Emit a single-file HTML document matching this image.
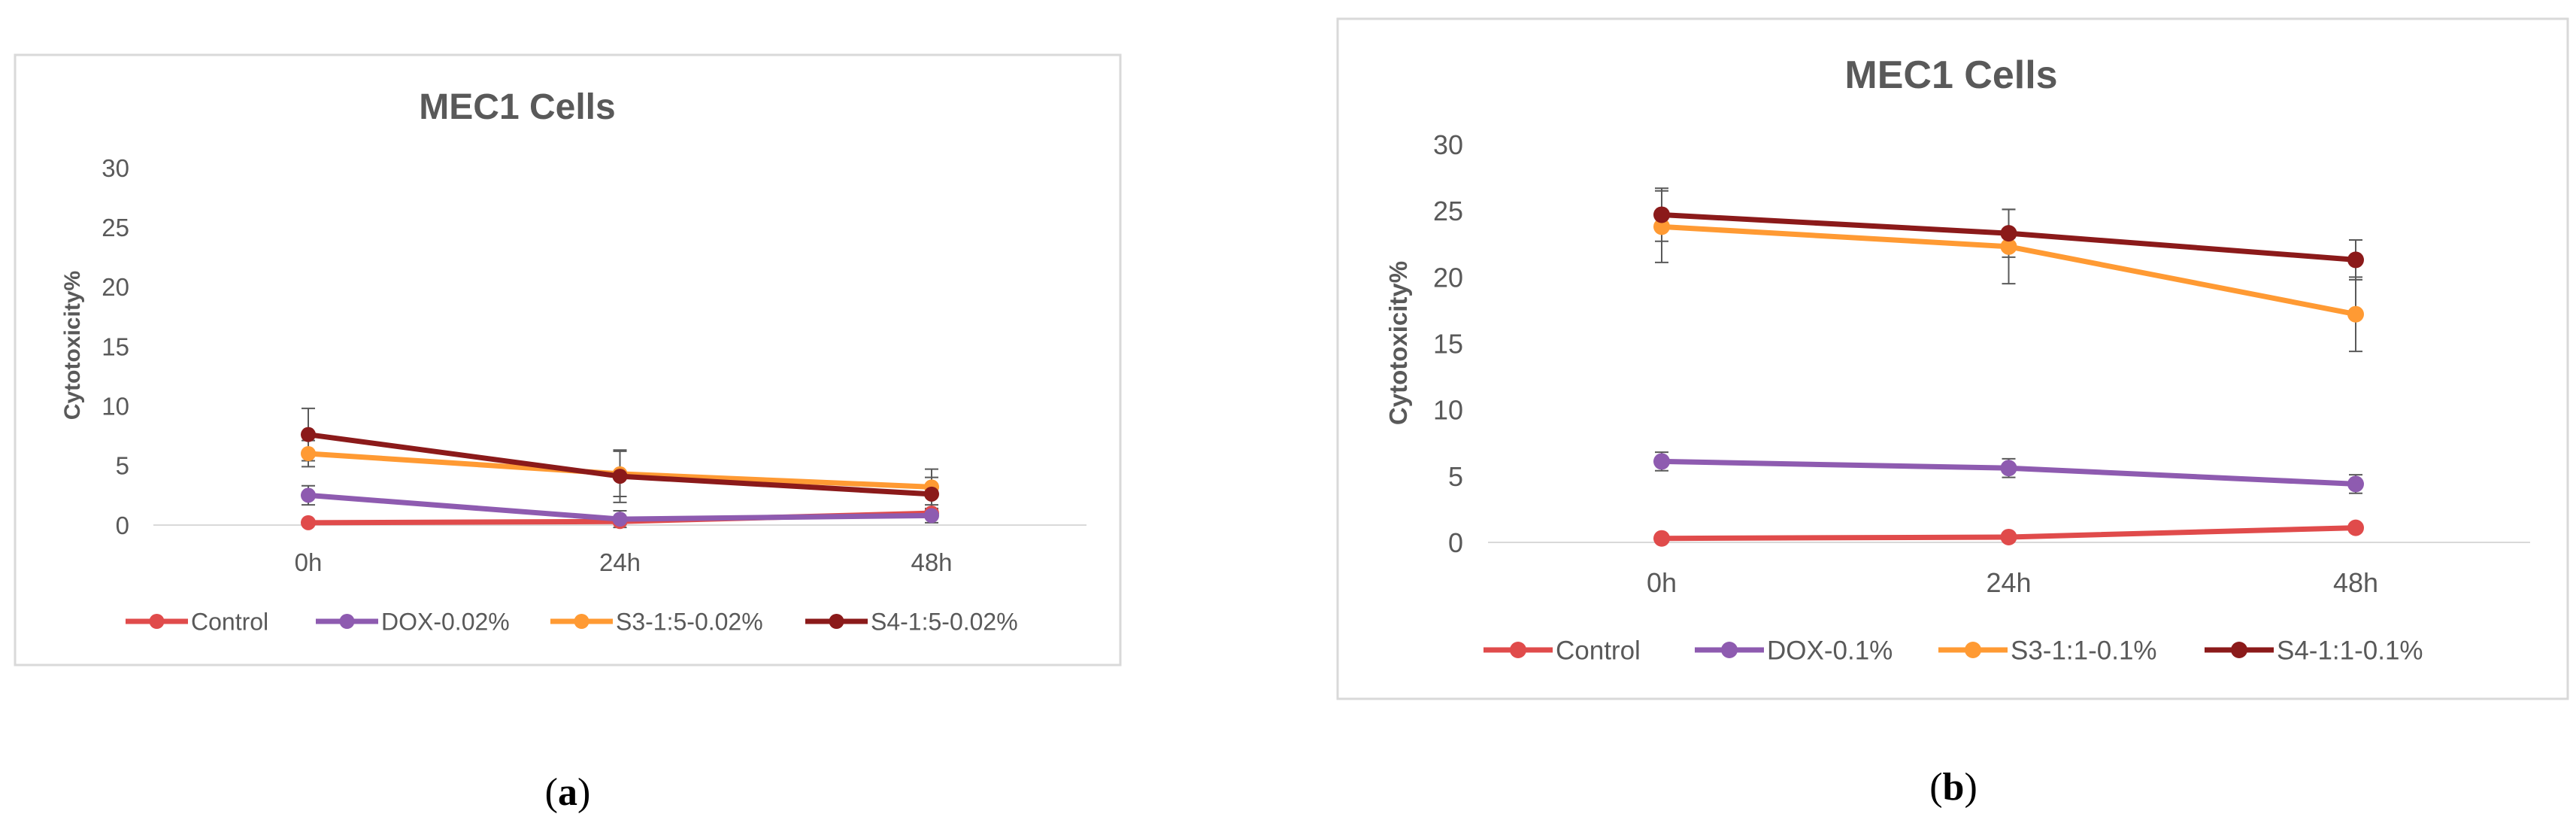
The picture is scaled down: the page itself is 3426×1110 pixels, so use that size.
<!DOCTYPE html>
<html><head><meta charset="utf-8">
<style>
html,body{margin:0;padding:0;background:#fff;}
svg{display:block;font-family:"Liberation Sans",sans-serif;}
</style></head>
<body>
<svg id="fig" width="3426" height="1110" viewBox="0 0 3426 1110" xmlns="http://www.w3.org/2000/svg"></svg>
<script>
const categories = ["0h","24h","48h"];
const yTicks = [0,5,10,15,20,25,30];
const seriesNames = ["Control","DOX","S3","S4"];
const colors = ["#e04b4b","#8e5bb0","#ff9a33","#8b1a1a"];
// panel a
const aLabels = ["Control","DOX-0.02%","S3-1:5-0.02%","S4-1:5-0.02%"];
const aControl = [0.2,0.3,1.0];
const aDox = [2.5,0.5,0.8];
const aS3 = [6.0,4.3,3.2];
const aS4 = [7.6,4.1,2.6];
const aControlErr = [0.2,0.2,0.3];
const aDoxErr = [0.8,0.7,0.6];
const aS3Err = [1.1,1.9,1.5];
const aS4Err = [2.2,2.2,1.4];
// panel b
const bLabels = ["Control","DOX-0.1%","S3-1:1-0.1%","S4-1:1-0.1%"];
const bControl = [0.3,0.4,1.1];
const bDox = [6.1,5.6,4.4];
const bS3 = [23.8,22.3,17.2];
const bS4 = [24.7,23.3,21.3];
const bControlErr = [0.2,0.2,0.3];
const bDoxErr = [0.7,0.7,0.7];
const bS3Err = [2.7,2.8,2.8];
const bS4Err = [2.0,1.8,1.5];

const NS="http://www.w3.org/2000/svg";
const svg=document.getElementById('fig');
function mk(tag,attrs,parent,text){const e=document.createElementNS(NS,tag);for(const k in attrs)e.setAttribute(k,attrs[k]);if(text!==undefined)e.textContent=text;(parent||svg).appendChild(e);return e;}

function panel(cfg){
  const g=mk('g',{});
  
  
  const box=mk('rect',{x:cfg.box[0],y:cfg.box[1],width:cfg.box[2]-cfg.box[0],height:cfg.box[3]-cfg.box[1],fill:'#fff',stroke:'#d9d9d9','stroke-width':3},g);
  
  
  const t=mk('text',{x:cfg.titleX,y:cfg.titleY,'font-size':cfg.titleSize,'font-weight':'bold',fill:'#595959','text-anchor':'middle'},g,'MEC1 Cells');
  
  
  const y=v=>cfg.y0+(cfg.y30-cfg.y0)*v/30;
  const x=i=>cfg.xs[0]+(cfg.xs[2]-cfg.xs[0])*i/(categories.length-1);
  yTicks.forEach(v=>{
    const tl=mk('text',{x:cfg.tickRight,y:y(v)+cfg.tickSize*0.36,'font-size':cfg.tickSize,fill:'#595959','text-anchor':'end'},g,String(v));
    
    
  });
  const ax=mk('line',{x1:cfg.axis[0],x2:cfg.axis[1],y1:y(0),y2:y(0),stroke:'#d9d9d9','stroke-width':2},g);
  
  
  categories.forEach((c,i)=>{
    const xl=mk('text',{x:x(i),y:cfg.xLabelY,'font-size':cfg.tickSize,fill:'#595959','text-anchor':'middle'},g,c);
    
    
  });
  const yt=mk('text',{x:0,y:0,'font-size':cfg.yTitleSize,'font-weight':'bold',fill:'#595959','text-anchor':'middle',transform:`translate(${cfg.yTitleX},${cfg.yTitleY}) rotate(-90)`},g,'Cytotoxicity%');
  
  
  cfg.series.forEach((vals,s)=>{
    const errs=cfg.errs[s];
    vals.forEach((v,i)=>{
      const e=errs[i],xx=x(i);
      const eb=mk('path',{d:`M${xx},${y(v-e)}V${y(v+e)}M${xx-9},${y(v-e)}h18M${xx-9},${y(v+e)}h18`,stroke:'#595959','stroke-width':2,fill:'none'},g);
      
      
    });
  });
  cfg.series.forEach((vals,s)=>{
    const pl=mk('polyline',{points:vals.map((v,i)=>x(i)+','+y(v)).join(' '),fill:'none',stroke:colors[s],'stroke-width':cfg.lw,'stroke-linejoin':'round'},g);
    
    
    vals.forEach((v,i)=>{
      const c=mk('circle',{cx:x(i),cy:y(v),r:cfg.r,fill:colors[s]},g);
      
      
    });
  });
  cfg.legend.forEach((lx,s)=>{
    const lg=mk('g',{},g);
    
    
    mk('line',{x1:lx,x2:lx+cfg.legLen,y1:cfg.legY,y2:cfg.legY,stroke:colors[s],'stroke-width':cfg.lw},lg);
    mk('circle',{cx:lx+cfg.legLen/2,cy:cfg.legY,r:cfg.r,fill:colors[s]},lg);
    mk('text',{x:lx+cfg.legLen+4,y:cfg.legY+cfg.legSize*0.36,'font-size':cfg.legSize,fill:'#595959'},lg,cfg.labels[s]);
  });
}

panel({id:'a',box:[20,73,1490,884],titleX:688,titleY:158,titleSize:48,
  y0:698,y30:223,xs:[410,825,1239],tickRight:172,tickSize:33,axis:[204,1445],xLabelY:759,
  yTitleX:106,yTitleY:459,yTitleSize:30,lw:7,r:10,
  series:[aControl,aDox,aS3,aS4],errs:[aControlErr,aDoxErr,aS3Err,aS4Err],
  legend:[167,420,732,1071],legLen:83,legY:826,legSize:32,labels:aLabels});
panel({id:'b',box:[1779,25,3415,929],titleX:2595,titleY:117,titleSize:52,
  y0:721,y30:192,xs:[2210,2672,3133],tickRight:1946,tickSize:36,axis:[1979,3365],xLabelY:787,
  yTitleX:1871,yTitleY:456,yTitleSize:33,lw:7,r:11,
  series:[bControl,bDox,bS3,bS4],errs:[bControlErr,bDoxErr,bS3Err,bS4Err],
  legend:[1973,2254,2578,2932],legLen:92,legY:864,legSize:35,labels:bLabels});

const la=mk('text',{x:755,y:1070,'font-size':52,'font-family':'Liberation Serif, serif',fill:'#000','text-anchor':'middle'},svg);


la.innerHTML='(<tspan font-weight="bold">a</tspan>)';
const lb=mk('text',{x:2598,y:1063,'font-size':52,'font-family':'Liberation Serif, serif',fill:'#000','text-anchor':'middle'},svg);


lb.innerHTML='(<tspan font-weight="bold">b</tspan>)';
</script>
</body></html>
